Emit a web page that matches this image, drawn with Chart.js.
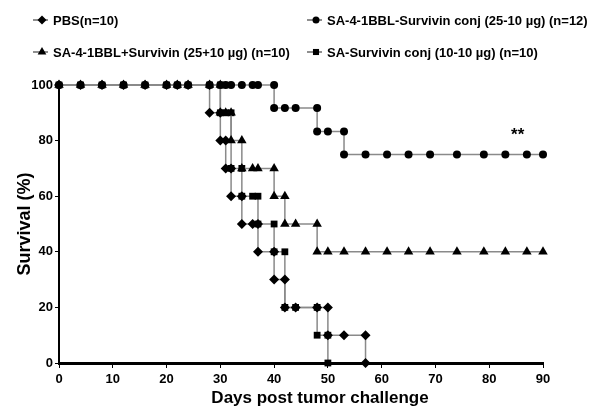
<!DOCTYPE html>
<html>
<head>
<meta charset="utf-8">
<script src="https://cdn.jsdelivr.net/npm/chart.js@4"></script>
<style>
  html, body { margin: 0; padding: 0; background: #fff; }
  #wrap { width: 600px; height: 415px; }
</style>
</head>
<body>
<div id="wrap"><canvas id="survivalChart" width="600" height="415"></canvas></div>
<script>
// Kaplan-Meier steps: each drop is a pair of points on the same day
const seriesLabels = [
  'PBS(n=10)',
  'SA-4-1BBL-Survivin conj (25-10 \u00b5g) (n=12)',
  'SA-4-1BBL+Survivin (25+10 \u00b5g) (n=10)',
  'SA-Survivin conj (10-10 \u00b5g) (n=10)'
];
const seriesMarkers = ['rectRot', 'circle', 'triangle', 'rect'];

const pbsDays = [0,4,8,12,16,20,22,24,28, 28,30, 30,31, 31,32, 32,34, 34,36,37, 37,40, 40,42, 42,44,48,50, 50,53,57, 57];
const pbsSurv = [100,100,100,100,100,100,100,100,100, 90,90, 80,80, 70,70, 60,60, 50,50,50, 40,40, 30,30, 20,20,20,20, 10,10,10, 0];

const conjDays = [0,4,8,12,16,20,22,24,28,30,31,32,34,36,37,40, 40,42,44,48, 48,50,53, 53,57,61,65,69,74,79,83,87,90];
const conjSurv = [100,100,100,100,100,100,100,100,100,100,100,100,100,100,100,100, 91.7,91.7,91.7,91.7, 83.3,83.3,83.3, 75,75,75,75,75,75,75,75,75,75];

const mixDays = [0,4,8,12,16,20,22,24,28,30, 30,31,32, 32,34, 34,36,37,40, 40,42, 42,44,48, 48,50,53,57,61,65,69,74,79,83,87,90];
const mixSurv = [100,100,100,100,100,100,100,100,100,100, 90,90,90, 80,80, 70,70,70,70, 60,60, 50,50,50, 40,40,40,40,40,40,40,40,40,40,40,40];

const saDays = [0,4,8,12,16,20,22,24,28,30, 30,31,32, 32,34, 34,36,37, 37,40, 40,42, 42,44,48, 48,50, 50];
const saSurv = [100,100,100,100,100,100,100,100,100,100, 90,90,90, 70,70, 60,60,60, 50,50, 40,40, 20,20,20, 10,10, 0];

const xTicks = [0,10,20,30,40,50,60,70,80,90];
const yTicks = [0,20,40,60,80,100];
const xTitle = 'Days post tumor challenge';
const starNote = { day: 85.3, surv: 82, text: '**' };

const allDays = [pbsDays, conjDays, mixDays, saDays];
const allSurv = [pbsSurv, conjSurv, mixSurv, saSurv];
const markerSize = [5, 4, 5.5, 4.8];

const datasets = seriesLabels.map((label, i) => ({
  label: label,
  data: allDays[i].map((d, j) => ({ x: d, y: allSurv[i][j] })),
  pointStyle: seriesMarkers[i],
  pointRadius: markerSize[i],
  pointHoverRadius: markerSize[i],
  pointBackgroundColor: '#000',
  pointBorderColor: '#000',
  pointBorderWidth: 0,
  borderColor: '#8a8a8a',
  borderWidth: 1.5,
  fill: false,
  tension: 0,
  clip: false,
  order: i === 1 ? 0 : 1
}));

const font = 'Liberation Sans, Arial, sans-serif';

// legend in two fixed columns, x title a bit right of centre, and the ** mark
const extras = {
  id: 'extras',
  afterDraw(chart) {
    const ctx = chart.ctx;
    const cols = [42, 316];
    const rows = [20, 52];
    ctx.save();
    ctx.font = 'bold 13px ' + font;
    ctx.textBaseline = 'middle';
    ctx.fillStyle = '#000';
    seriesLabels.forEach((label, i) => {
      const x = cols[i % 2];
      const y = rows[Math.floor(i / 2)];
      ctx.strokeStyle = '#444';
      ctx.lineWidth = 1.2;
      ctx.beginPath();
      ctx.moveTo(x - 9, y);
      ctx.lineTo(x + 6, y);
      ctx.stroke();
      ctx.fillStyle = '#000';
      Chart.helpers.drawPoint(ctx, { pointStyle: seriesMarkers[i], radius: markerSize[i] - 0.5, rotation: 0, borderWidth: 0 }, x, y);
      ctx.fillText(label, x + 11, y + 1);
    });

    ctx.textAlign = 'center';
    ctx.font = 'bold 17px ' + font;
    ctx.fillText(xTitle, 320, 398);

    const sx = chart.scales.x.getPixelForValue(starNote.day);
    const sy = chart.scales.y.getPixelForValue(starNote.surv);
    ctx.fillText(starNote.text, sx, sy);
    ctx.restore();
  }
};

const config = {
  type: 'line',
  data: { datasets },
  options: {
    responsive: false,
    animation: false,
    devicePixelRatio: 1,
    layout: { padding: { top: 85, right: 57, left: 0, bottom: 0 } },
    plugins: {
      legend: { display: false },
      tooltip: { enabled: false }
    },
    scales: {
      x: {
        type: 'linear',
        min: 0,
        max: 90,
        afterFit: s => { s.height = 52; },
        afterBuildTicks: s => { s.ticks = xTicks.map(v => ({ value: v })); },
        border: { display: true, color: '#000', width: 3 },
        grid: { drawOnChartArea: false, drawTicks: true, tickLength: 5, color: '#000', lineWidth: 1 },
        ticks: { color: '#000', padding: 4, maxRotation: 0, font: { family: font, size: 13, weight: 'bold' } }
      },
      y: {
        min: 0,
        max: 100,
        afterFit: s => { s.width = 59; },
        afterBuildTicks: s => { s.ticks = yTicks.map(v => ({ value: v })); },
        border: { display: true, color: '#000', width: 2 },
        grid: { drawOnChartArea: false, drawTicks: true, tickLength: 4, color: '#000', lineWidth: 1 },
        ticks: { color: '#000', padding: 2, font: { family: font, size: 13, weight: 'bold' } },
        title: {
          display: true,
          text: 'Survival (%)',
          color: '#000',
          padding: { top: 14, bottom: 0 },
          font: { family: font, size: 18, weight: 'bold' }
        }
      }
    }
  },
  plugins: [extras]
};

const survivalChart = new Chart(document.getElementById('survivalChart'), config);
</script>
</body>
</html>
